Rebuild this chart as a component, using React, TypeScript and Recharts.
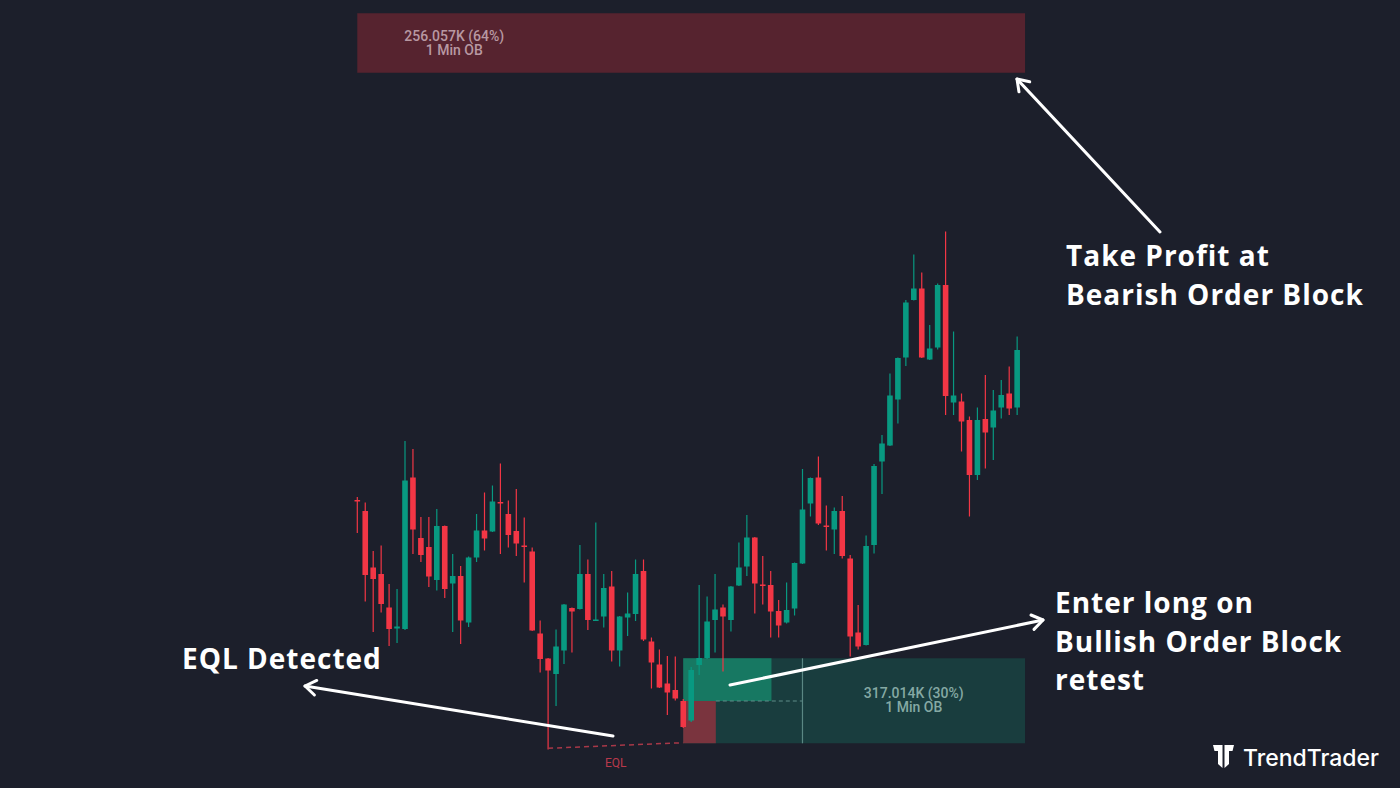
import React from 'react';
import {
    ComposedChart,
    Bar,
    XAxis,
    YAxis,
    ReferenceArea,
    ReferenceLine,
    ReferenceDot,
} from 'recharts';

// price units: bigger = higher on screen (1 unit ~ 1px)
const opens = [
    288, 277, 220.5, 214, 180.5, 159.5, 159, 310.5, 250, 241, 208, 262, 204.5, 212, 165.5, 230.5, 257.5,
    256.5, 286, 274, 257, 242.5, 236.5, 154.5, 129.5, 114, 137.5, 180, 179, 214, 167.5, 171.5, 201.5,
    137.5, 170.5, 174, 217, 146.5, 123.5, 104.5, 98, 87, 67.5, 123, 130, 168, 180.5, 168, 202.5, 221.5,
    250.5, 203.5, 203, 177, 165.5, 179.5, 224.5, 284.5, 310.5, 262.5, 258.5, 277, 229.5, 155.5, 143,
    243, 326.5, 342.5, 388.5, 430.5, 488, 499.5, 428.5, 440.5, 503, 385.5, 386.5, 368, 313, 369, 360.5,
    380.5, 394.5, 380.5,
];
const highs = [
    291, 285.5, 237, 242.5, 204, 199, 347, 339, 271, 271, 279, 262.5, 234, 222, 231.5, 274, 295.5,
    302.5, 324.5, 287.5, 299, 270.5, 240.5, 167.5, 130, 158.5, 184, 180.5, 243, 228.5, 265.5, 214, 217,
    172, 195.5, 228.5, 228.5, 150.5, 138.5, 132, 131.5, 89, 121, 203, 191.5, 214, 183.5, 202, 245.5, 273,
    251, 232, 217, 188, 205.5, 225.5, 319, 310.5, 331.5, 282.5, 280.5, 292, 233, 183, 252.5,
    324, 353, 414.5, 430.5, 488, 533.5, 515.5, 463, 504.5, 556.5, 456.5, 394.5, 371.5, 380.5, 413, 398,
    408, 421.5, 451.5,
];
const lows = [
    255, 186.5, 156, 175.5, 142, 145, 158, 234, 226, 201, 197.5, 190, 156, 144, 161, 226, 237.5,
    256, 234, 240.5, 232, 205.5, 157, 115.5, 38.5, 82, 124, 135.5, 178.5, 158, 167, 160.5, 126.5,
    121.5, 152, 167, 147, 99.5, 100, 73, 87.5, 60, 66, 113, 129, 135.5, 116.5, 156.5, 202, 212,
    174.5, 183.5, 150.5, 150.5, 164.5, 172.5, 224, 271.5, 263, 237.5, 234, 229.5, 131.5, 138.5, 142.5,
    234.5, 294, 342, 364.5, 422, 487.5, 430, 428, 438.5, 373, 373, 336.5, 271.5, 308, 319.5, 328,
    369.5, 373, 373,
];
const closes = [
    286.5, 213, 209, 184, 159, 161.5, 307.5, 258.5, 233, 211.5, 262, 199, 212, 167.5, 230.5, 257.5, 249.5,
    286.5, 284.5, 253, 244.5, 241.5, 157.5, 129, 117.5, 141.5, 183.5, 176.5, 214, 168, 168.5, 200, 137.5,
    171.5, 174.5, 214, 148.5, 125.5, 100.5, 95.5, 89.5, 61, 118, 130, 166.5, 178.5, 171.5, 201.5, 220.5, 250.5,
    204.5, 202.5, 176.5, 162.5, 178, 225, 278.5, 310, 264.5, 261.5, 277, 232, 151.5, 141.5, 242,
    322, 344.5, 392.5, 430, 485.5, 499.5, 430.5, 439.5, 503, 392, 392.5, 366.5, 313, 368, 355.5, 377.5,
    393, 379.5, 438,
];

// order blocks, in bar index / price units
const bearishOB = { x1: 0, x2: 84, top: 774.7, bottom: 715.3, label: ['256.057K (64%)', '1 Min OB'] };
const bullishOB = { x1: 41, x2: 84, top: 129.7, bottom: 44.7, mid: 87, split: 56, label: ['317.014K (30%)', '1 Min OB'] };
const bullishFill = { x2: 52.1 };
const bullishCandle = { x2: 45.1 };
const eqlLine = [
    { x: 24, y: 39.7 },
    { x: 41, y: 45.3 },
];

const data = opens.map((o, i) => ({ i, o, h: highs[i], l: lows[i], c: closes[i] }));

const UP = '#089981';
const DOWN = '#f23645';
const BG = '#1c1f2b';

const Candle = (props: any) => {
    const { x, y, width, height, payload } = props;
    const { o, h, l, c } = payload;
    const k = h === l ? 0 : height / (h - l);
    const cx = x + width / 2;
    const yo = y + (h - o) * k;
    const yc = y + (h - c) * k;
    const color = c >= o ? UP : DOWN;
    const top = Math.min(yo, yc);
    const bh = Math.max(Math.abs(yo - yc), 1.5);
    return (
        <g>
            <line x1={cx} x2={cx} y1={y} y2={y + height} stroke={color} strokeWidth={1.2} />
            <rect x={cx - 2.8} y={top} width={5.6} height={bh} fill={color} />
        </g>
    );
};

const boxText = (lines: string[], color: string, dx?: number) => (props: any) => {
    const { x, y, width, height } = props.viewBox;
    const cx = dx === undefined ? x + width / 2 : x + dx;
    const cy = y + height / 2;
    return (
        <text fill={color} fontSize={14} fontWeight={500} fontFamily='Roboto' textAnchor='middle'>
            <tspan x={cx} y={cy - 2.5}>{lines[0]}</tspan>
            <tspan x={cx} y={cy + 11.5}>{lines[1]}</tspan>
        </text>
    );
};

const Arrow = ({ from, to }: { from: number[]; to: number[] }) => {
    const ang = Math.atan2(from[1] - to[1], from[0] - to[0]);
    const len = 13;
    const a1 = ang + 0.6;
    const a2 = ang - 0.6;
    return (
        <g stroke='#ffffff' strokeWidth={3} strokeLinecap='round' strokeLinejoin='round' fill='none'>
            <line x1={from[0]} y1={from[1]} x2={to[0]} y2={to[1]} />
            <polyline
                points={`${to[0] + len * Math.cos(a1)},${to[1] + len * Math.sin(a1)} ${to[0]},${to[1]} ${
                    to[0] + len * Math.cos(a2)
                },${to[1] + len * Math.sin(a2)}`}
            />
        </g>
    );
};

const noteStyle = { fontFamily: 'Open Sans', fontWeight: 700, fontSize: 28, letterSpacing: 1, fill: '#ffffff' };

const App = () => {
    return (
        <div
            style={{
                position: 'absolute',
                left: 0,
                top: 0,
                width: 1400,
                height: 788,
                background: BG,
                overflow: 'hidden',
            }}
        >
            <ComposedChart width={1400} height={788} data={data} margin={{ top: 0, right: 0, bottom: 0, left: 0 }}>
                <XAxis type='number' dataKey='i' domain={[-44.94, 131.16]} hide allowDataOverflow />
                <YAxis type='number' domain={[0, 788]} hide allowDataOverflow />
                <ReferenceArea
                    x1={bearishOB.x1}
                    x2={bearishOB.x2}
                    y1={bearishOB.bottom}
                    y2={bearishOB.top}
                    fill='#56232f'
                    fillOpacity={1}
                    stroke='none'
                    ifOverflow='visible'
                    label={boxText(bearishOB.label, '#b898a2', 97)}
                />
                <ReferenceArea
                    x1={bullishOB.x1}
                    x2={bullishOB.x2}
                    y1={bullishOB.bottom}
                    y2={bullishOB.top}
                    fill='#193d3e'
                    fillOpacity={1}
                    stroke='none'
                    ifOverflow='visible'
                />
                <ReferenceArea
                    x1={bullishOB.x1}
                    x2={bullishFill.x2}
                    y1={bullishOB.mid}
                    y2={bullishOB.top}
                    fill='#177862'
                    fillOpacity={1}
                    stroke='none'
                    ifOverflow='visible'
                />
                <ReferenceArea
                    x1={bullishOB.x1}
                    x2={bullishCandle.x2}
                    y1={bullishOB.bottom}
                    y2={bullishOB.mid}
                    fill='#7a343e'
                    fillOpacity={1}
                    stroke='none'
                    ifOverflow='visible'
                />
                <ReferenceArea
                    x1={bullishOB.split}
                    x2={bullishOB.x2}
                    y1={bullishOB.bottom}
                    y2={bullishOB.top}
                    fillOpacity={0}
                    stroke='none'
                    ifOverflow='visible'
                    label={boxText(bullishOB.label, '#85a9a4')}
                />
                <ReferenceLine
                    segment={[
                        { x: bullishCandle.x2, y: bullishOB.mid },
                        { x: bullishOB.split, y: bullishOB.mid },
                    ]}
                    stroke='#5e8c87'
                    strokeDasharray='4 3'
                    ifOverflow='visible'
                />
                <ReferenceLine
                    segment={[
                        { x: bullishOB.split, y: bullishOB.top },
                        { x: bullishOB.split, y: bullishOB.bottom },
                    ]}
                    stroke='#5a8783'
                    strokeWidth={1.2}
                    ifOverflow='visible'
                />
                <ReferenceLine
                    segment={eqlLine}
                    stroke='#a83848'
                    strokeWidth={1.5}
                    strokeDasharray='5 4'
                    ifOverflow='visible'
                />
                <ReferenceDot
                    x={(eqlLine[0].x + eqlLine[1].x) / 2}
                    y={25}
                    r={0}
                    fill='none'
                    stroke='none'
                    ifOverflow='visible'
                    label={{ value: 'EQL', position: 'center', fill: '#b8394b', fontSize: 12, fontFamily: 'Roboto' }}
                />
                <Bar dataKey={(d: any) => [d.l, d.h]} barSize={6} shape={<Candle />} isAnimationActive={false} />
            </ComposedChart>

            <svg
                width={1400}
                height={788}
                style={{ position: 'absolute', left: 0, top: 0, pointerEvents: 'none' }}
            >
                <Arrow from={[1160, 232]} to={[1017, 79]} />
                <Arrow from={[730, 685]} to={[1043, 620]} />
                <Arrow from={[613, 736]} to={[305, 686]} />

                <text x={1066} y={266} style={noteStyle}>Take Profit at</text>
                <text x={1066} y={305} style={noteStyle}>Bearish Order Block</text>

                <text x={1055} y={613} style={noteStyle}>Enter long on</text>
                <text x={1055} y={652} style={noteStyle}>Bullish Order Block</text>
                <text x={1055} y={690} style={noteStyle}>retest</text>

                <text x={182} y={669} style={noteStyle}>EQL Detected</text>

                <g fill='#ffffff'>
                    <path d='M1213 745 L1222.5 745 L1222.5 768 L1218 764 L1218 751 L1214.5 751 Z' />
                    <path d='M1224.5 745 L1234 745 L1232.5 751 L1229 751 L1229 764 L1224.5 768 Z' />
                    <text x={1243} y={766} fontFamily='Inter' fontWeight={500} fontSize={23}>
                        TrendTrader
                    </text>
                </g>
            </svg>
        </div>
    );
};

export default App;
